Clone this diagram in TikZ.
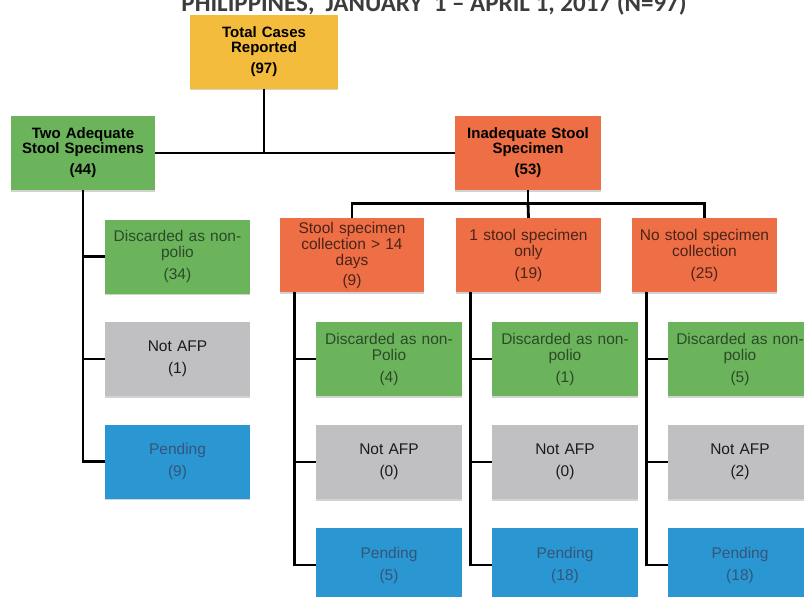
\documentclass[tikz,border=0pt]{standalone}
\usepackage{fontspec}
\setmainfont{Liberation Sans}
\newfontfamily\titlefont{Carlito}
\usetikzlibrary{shadows,calc}
\definecolor{cyellow}{HTML}{F4BC3C}
\definecolor{cgreen}{HTML}{6BB45B}
\definecolor{corange}{HTML}{EE6E45}
\definecolor{cgrey}{HTML}{C0C0C2}
\definecolor{cblue}{HTML}{2A96D2}
\definecolor{tgreen}{HTML}{2C4A2A}
\definecolor{torange}{HTML}{4A2418}
\definecolor{tblue}{HTML}{35567A}
\definecolor{tgrey}{HTML}{1A1A1A}
\definecolor{ttitle}{HTML}{3C3C3C}
\tikzset{
  box/.style={draw=none, minimum height=74pt, inner sep=0pt, align=center,
    drop shadow={shadow xshift=0pt, shadow yshift=-1.5pt, opacity=0.35}},
  topbox/.style={box, font=\fontsize{15}{15}\selectfont\bfseries, text=black},
  subbox/.style={box, font=\fontsize{15.5}{16}\selectfont},
  gbox/.style={subbox, fill=cgreen, text=tgreen},
  obox/.style={subbox, fill=corange, text=torange},
  greybox/.style={subbox, fill=cgrey, text=tgrey},
  bbox/.style={subbox, fill=cblue, text=tblue},
  conn/.style={draw=black, line width=2.8pt},
}
\begin{document}
\begin{tikzpicture}[x=1pt,y=-1pt]
\useasboundingbox (0,0) rectangle (804,597);
\clip (0,0) rectangle (804,597);
\fill[white] (0,0) rectangle (804,597);
\node[anchor=base, font=\titlefont\fontsize{25}{26}\selectfont\bfseries, text=ttitle] (title) at (434,12) {PHILIPPINES,\ \ JANUARY\ \ 1 – APRIL 1, 2017 (N=97)};

% top level
\node[topbox, fill=cyellow, minimum width=148pt, text width=146pt] (total) at (264,51.5) {Total Cases\\Reported\\[6pt](97)};
\node[topbox, fill=cgreen, minimum width=144pt, text width=142pt] (two) at (83,153) {Two Adequate\\Stool Specimens\\[6pt](44)};
\node[topbox, fill=corange, minimum width=146pt, text width=144pt] (inad) at (528,153) {Inadequate Stool\\Specimen\\[6pt](53)};

% second level (orange)
\node[obox, minimum width=144pt, text width=142pt] (s14) at (352,255) {Stool specimen\\collection > 14\\days\\[4pt](9)};
\node[obox, minimum width=145pt, text width=143pt] (s1) at (528.5,255) {1 stool specimen\\only\\[6pt](19)};
\node[obox, minimum width=145pt, text width=143pt] (s0) at (704.5,255) {No stool specimen\\collection\\[6pt](25)};

% left children
\node[gbox, minimum width=145pt, text width=143pt] (l1) at (177.5,256.5) {Discarded as non-\\polio\\[6pt](34)};
\node[greybox, minimum width=145pt, text width=143pt] (l2) at (177.5,359) {Not AFP\\[6pt](1)};
\node[bbox, minimum width=145pt, text width=143pt] (l3) at (177.5,461.5) {Pending\\[6pt](9)};

% children of s14
\node[gbox, minimum width=146pt, text width=144pt] (a1) at (389,359) {Discarded as non-\\Polio\\[6pt](4)};
\node[greybox, minimum width=146pt, text width=144pt] (a2) at (389,462) {Not AFP\\[6pt](0)};
\node[bbox, minimum width=146pt, text width=144pt] (a3) at (389,565) {Pending\\[6pt](5)};

% children of s1
\node[gbox, minimum width=146pt, text width=144pt] (b1) at (565,359) {Discarded as non-\\polio\\[6pt](1)};
\node[greybox, minimum width=146pt, text width=144pt] (b2) at (565,462) {Not AFP\\[6pt](0)};
\node[bbox, minimum width=146pt, text width=144pt] (b3) at (565,565) {Pending\\[6pt](18)};

% children of s0
\node[gbox, minimum width=144pt, text width=144pt] (c1) at (740,359) {Discarded as non-\\polio\\[6pt](5)};
\node[greybox, minimum width=144pt, text width=144pt] (c2) at (740,462) {Not AFP\\[6pt](2)};
\node[bbox, minimum width=144pt, text width=144pt] (c3) at (740,565) {Pending\\[6pt](18)};

% connectors
\coordinate (jt) at (total.south |- two.east);
\draw[conn] (two.east) -- (inad.west);
\draw[conn] (total.south) -- (jt);

\coordinate (ji) at ($(inad.south)+(0,13)$);
\draw[conn] (inad.south) -- (ji);
\draw[conn] (s14.north) |- (ji) -| (s0.north);
\draw[conn] (ji) -- (s1.north);

% left tree
\coordinate (lb) at (two.south |- l3.west);
\draw[conn] (two.south) -- (lb) -- (l3.west);
\draw[conn] (two.south |- l1.west) -- (l1.west);
\draw[conn] (two.south |- l2.west) -- (l2.west);

% s14 tree
\coordinate (as) at ($(s14.south west)+(15,0)$);
\draw[conn] (as) |- (a3.west);
\draw[conn] (as |- a1.west) -- (a1.west);
\draw[conn] (as |- a2.west) -- (a2.west);

% s1 tree
\coordinate (bs) at ($(s1.south west)+(15,0)$);
\draw[conn] (bs) |- (b3.west);
\draw[conn] (bs |- b1.west) -- (b1.west);
\draw[conn] (bs |- b2.west) -- (b2.west);

% s0 tree
\coordinate (cs) at ($(s0.south west)+(15,0)$);
\draw[conn] (cs) |- (c3.west);
\draw[conn] (cs |- c1.west) -- (c1.west);
\draw[conn] (cs |- c2.west) -- (c2.west);
\end{tikzpicture}
\end{document}
